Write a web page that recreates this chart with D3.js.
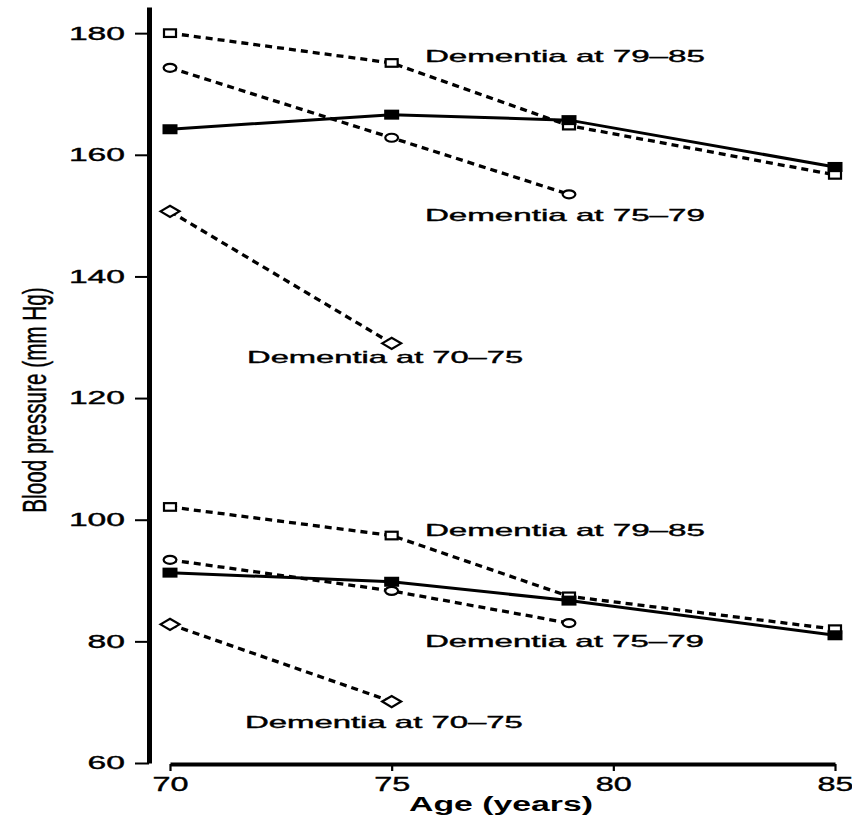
<!DOCTYPE html>
<html>
<head>
<meta charset="utf-8">
<script src="https://cdn.jsdelivr.net/npm/d3@7"></script>
<style>
  html, body { margin: 0; padding: 0; background: #fff; }
  svg { display: block; }
  text { font-family: "Liberation Sans", Arial, sans-serif; fill: #000; }
</style>
</head>
<body>
<svg id="chart" width="852" height="821"></svg>
<script>
// Age at examination (years)
const ages = [70, 75, 79, 85];

// Systolic blood pressure (mm Hg)
const systolicNoDementia = [164.2, 166.6, 165.7, 158.0];
const systolicDementia79to85 = [180.0, 175.1, 164.8, 156.7];
const systolicDementia75to79 = [174.3, 162.8, 153.5];
const systolicDementia70to75 = [150.7, 129.0];

// Diastolic blood pressure (mm Hg)
const diastolicNoDementia = [91.3, 89.8, 86.7, 81.0];
const diastolicDementia79to85 = [102.1, 97.4, 87.4, 82.0];
const diastolicDementia75to79 = [93.4, 88.3, 83.0];
const diastolicDementia70to75 = [82.8, 70.1];

// Axis ticks
const xTicks = [70, 75, 80, 85];
const yTicks = [60, 80, 100, 120, 140, 160, 180];

// Group labels
const labelTexts = ["Dementia at 79\u201385", "Dementia at 75\u201379", "Dementia at 70\u201375"];

const svg = d3.select("#chart");

const x = d3.scaleLinear().domain([70, 85]).range([170, 835]);
const y = d3.scaleLinear().domain([60, 184.3]).range([763, 7]);

// Series: values paired with the first ages
const series = [
  { values: systolicDementia79to85, marker: "openSquare", dashed: true },
  { values: systolicDementia75to79, marker: "openCircle", dashed: true },
  { values: systolicDementia70to75, marker: "openDiamond", dashed: true },
  { values: diastolicDementia79to85, marker: "openSquare", dashed: true },
  { values: diastolicDementia75to79, marker: "openCircle", dashed: true },
  { values: diastolicDementia70to75, marker: "openDiamond", dashed: true },
  { values: systolicNoDementia, marker: "filledSquare", dashed: false },
  { values: diastolicNoDementia, marker: "filledSquare", dashed: false }
].map(s => ({ ...s, points: s.values.map((v, i) => ({ age: ages[i], bp: v })) }));

// Y axis
const yAxis = d3.axisLeft(y)
  .tickValues(yTicks)
  .tickSize(14)
  .tickSizeOuter(0)
  .tickPadding(10)
  .tickFormat(d3.format("d"));

const gy = svg.append("g")
  .attr("transform", "translate(149,0)")
  .call(yAxis);
gy.select(".domain").attr("stroke-width", 5).attr("stroke", "#000");
gy.selectAll(".tick line").attr("stroke-width", 2).attr("stroke", "#000");
gy.selectAll(".tick text")
  .attr("font-size", 18.5)
  .attr("fill", "#000")
  .attr("stroke", "#000")
  .attr("stroke-width", 0.4)
  .attr("textLength", d => String(d).length * 18.7)
  .attr("lengthAdjust", "spacingAndGlyphs");

// X axis
const xAxis = d3.axisBottom(x)
  .tickValues(xTicks)
  .tickSize(7)
  .tickSizeOuter(0)
  .tickPadding(6)
  .tickFormat(d3.format("d"));

const gx = svg.append("g")
  .attr("transform", "translate(0,764)")
  .call(xAxis);
gx.select(".domain").attr("stroke-width", 4).attr("stroke", "#000");
gx.selectAll(".tick line").attr("stroke-width", 2.2).attr("stroke", "#000");
gx.selectAll(".tick text")
  .attr("font-size", 19.5)
  .attr("fill", "#000")
  .attr("stroke", "#000")
  .attr("stroke-width", 0.4)
  .attr("textLength", 36)
  .attr("lengthAdjust", "spacingAndGlyphs");

// Axis titles
svg.append("text")
  .attr("x", 501)
  .attr("y", 811)
  .attr("text-anchor", "middle")
  .attr("font-size", 20)
  .attr("font-weight", "bold")
  .attr("textLength", 184)
  .attr("lengthAdjust", "spacingAndGlyphs")
  .text("Age (years)");

svg.append("text")
  .attr("transform", "translate(46,400) rotate(-90) scale(1,1.6)")
  .attr("text-anchor", "middle")
  .attr("font-size", 20.7)
  .attr("stroke", "#000")
  .attr("stroke-width", 0.3)
  .text("Blood pressure (mm Hg)");

// Lines
const line = d3.line().x(d => x(d.age)).y(d => y(d.bp));

svg.append("g")
  .selectAll("path")
  .data(series)
  .join("path")
  .attr("d", d => line(d.points))
  .attr("fill", "none")
  .attr("stroke", "#000")
  .attr("stroke-width", d => d.dashed ? 3.3 : 3)
  .attr("stroke-dasharray", d => d.dashed ? "7,5" : null);

// Markers
function drawMarker(g, type) {
  if (type === "filledSquare") {
    g.append("rect").attr("x", -7.5).attr("y", -5).attr("width", 15).attr("height", 10)
      .attr("fill", "#000");
  } else if (type === "openSquare") {
    g.append("rect").attr("x", -6).attr("y", -3.8).attr("width", 12).attr("height", 7.6)
      .attr("fill", "#fff").attr("stroke", "#000").attr("stroke-width", 2.2);
  } else if (type === "openCircle") {
    g.append("ellipse").attr("rx", 6.4).attr("ry", 4)
      .attr("fill", "#fff").attr("stroke", "#000").attr("stroke-width", 2.2);
  } else if (type === "openDiamond") {
    g.append("path").attr("d", "M-9.5,0L0,-5.6L9.5,0L0,5.6Z")
      .attr("fill", "#fff").attr("stroke", "#000").attr("stroke-width", 2.2);
  }
}

const markerLayer = svg.append("g");
series.forEach(s => {
  s.points.forEach(p => {
    const g = markerLayer.append("g")
      .attr("transform", `translate(${x(p.age)},${y(p.bp)})`);
    drawMarker(g, s.marker);
  });
});

// Group labels placed in data coordinates (age, mm Hg of baseline)
const labelPlacement = [
  { text: labelTexts[0], age: 75.75, bp: 175.26, width: 280 },
  { text: labelTexts[1], age: 75.75, bp: 149.1, width: 280 },
  { text: labelTexts[2], age: 71.74, bp: 125.77, width: 276 },
  { text: labelTexts[0], age: 75.75, bp: 97.32, width: 280 },
  { text: labelTexts[1], age: 75.75, bp: 79.07, width: 279 },
  { text: labelTexts[2], age: 71.69, bp: 65.75, width: 278 }
];

svg.append("g")
  .selectAll("text")
  .data(labelPlacement)
  .join("text")
  .attr("x", d => x(d.age))
  .attr("y", d => y(d.bp))
  .attr("font-size", 17)
  .attr("stroke", "#000")
  .attr("stroke-width", 0.4)
  .attr("textLength", d => d.width)
  .attr("lengthAdjust", "spacingAndGlyphs")
  .text(d => d.text);
</script>
</body>
</html>
